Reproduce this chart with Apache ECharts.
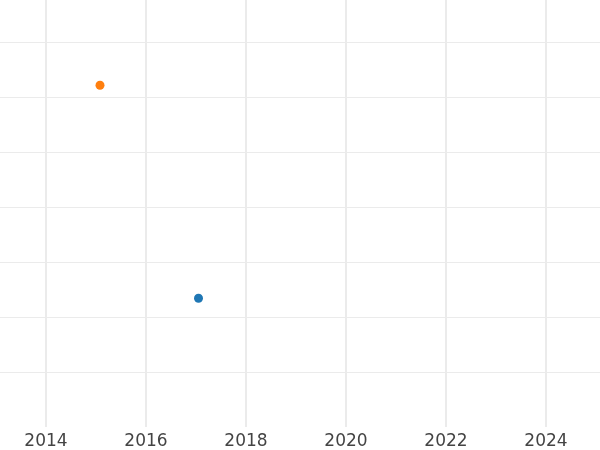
<!DOCTYPE html>
<html>
<head>
<meta charset="utf-8">
<script src="https://cdn.jsdelivr.net/npm/echarts@6/dist/echarts.min.js"></script>
<style>html,body{margin:0;padding:0;background:#fff}#c{width:600px;height:450px}</style>
</head>
<body>
<div id="c"></div>
<script>
// decimal years
const seriesNames = ['A', 'B'];
const seriesColors = ['#1f77b4', '#ff7f0e'];
const blueX = [2017.05];
const blueY = [2.34];
const orangeX = [2015.08];
const orangeY = [6.21];
const xMin = 2013.08, xMax = 2025.08;
const yMin = 0, yMax = 7.76;

const chart = echarts.init(document.getElementById('c'));
chart.setOption({
  animation: false,
  backgroundColor: '#ffffff',
  grid: {left: 0, right: 0, top: 0, bottom: 23, containLabel: false},
  xAxis: {
    type: 'value', min: xMin, max: xMax, splitNumber: 6,
    axisLine: {show: false}, axisTick: {show: false},
    splitLine: {show: true, showMinLine: false, showMaxLine: false, lineStyle: {color: '#ebebeb', width: 2}},
    axisLabel: {
      color: '#444444', fontSize: 17, fontFamily: 'DejaVu Sans', margin: 6,
      showMinLabel: false, showMaxLabel: false,
      formatter: v => String(Math.round(v))
    }
  },
  yAxis: {
    type: 'value', min: yMin, max: yMax, interval: 1,
    axisLine: {show: false}, axisTick: {show: false}, axisLabel: {show: false},
    splitLine: {show: true, showMinLine: false, showMaxLine: false, lineStyle: {color: '#ebebeb', width: 1}}
  },
  series: [
    {name: seriesNames[0], type: 'scatter', symbolSize: 9, itemStyle: {color: seriesColors[0], opacity: 1},
     data: blueX.map((x, i) => [x, blueY[i]])},
    {name: seriesNames[1], type: 'scatter', symbolSize: 9, itemStyle: {color: seriesColors[1], opacity: 1},
     data: orangeX.map((x, i) => [x, orangeY[i]])}
  ]
});
</script>
</body>
</html>
